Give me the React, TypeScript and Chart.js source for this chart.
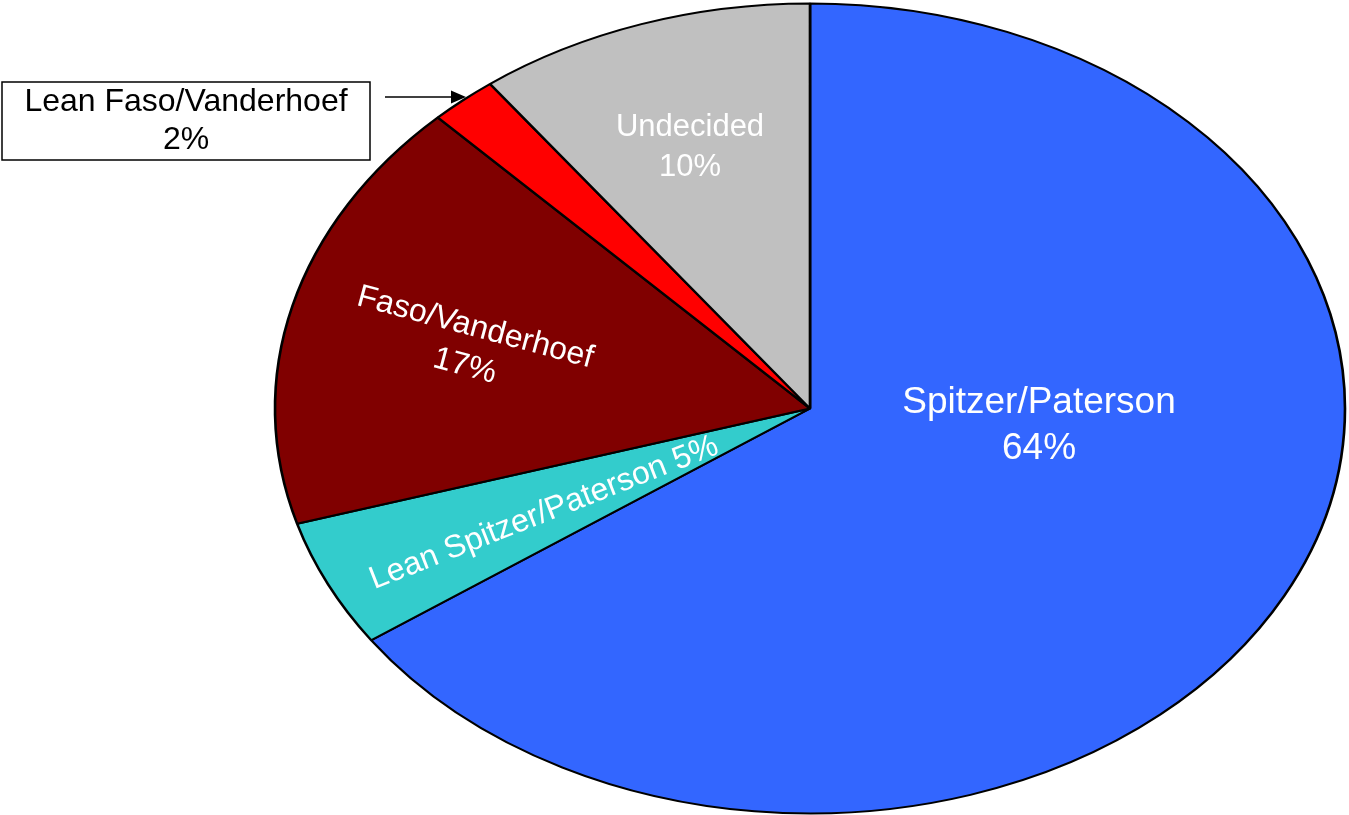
import React, { useEffect, useRef } from "react";
import { Chart, registerables } from "chart.js";

Chart.register(...registerables);

// ---- data ----
const categories = [
  "Spitzer/Paterson",
  "Lean Spitzer/Paterson",
  "Faso/Vanderhoef",
  "Lean Faso/Vanderhoef",
  "Undecided",
];
const values = [64, 5, 17, 2, 10];
const sliceColors = ["#3366FF", "#33CCCC", "#800000", "#FF0000", "#C0C0C0"];

// ---- layout ----
const W = 1349;
const H = 815;
const CX = 810;
const CY = 409;
const RY = 405;
const RX = 535;
const FONT = "'Liberation Sans', Arial, Helvetica, sans-serif";

type LabelLayout =
  | { kind: "inside"; x: number; y: number; angle: number; size: number; lh: number; color: string; oneLine?: boolean }
  | { kind: "callout"; box: [number, number, number, number]; size: number; lh: number; arrow: [number, number, number, number] };

const labelLayouts: LabelLayout[] = [
  { kind: "inside", x: 1039, y: 426, angle: 0, size: 37, lh: 46, color: "#FFFFFF" },
  { kind: "inside", x: 544, y: 513, angle: -21.5, size: 32, lh: 40, color: "#FFFFFF", oneLine: true },
  { kind: "inside", x: 470, y: 347, angle: 15, size: 32, lh: 40, color: "#FFFFFF" },
  { kind: "callout", box: [2, 82, 368, 78], size: 32, lh: 38, arrow: [385, 97, 466, 97] },
  { kind: "inside", x: 690, y: 147, angle: 0, size: 31, lh: 40, color: "#FFFFFF" },
];

const ellipsePlugin = {
  id: "ellipse",
  beforeDatasetsDraw(chart: any) {
    const ctx = chart.ctx;
    ctx.save();
    ctx.translate(CX, CY);
    ctx.scale(RX / RY, 1);
    ctx.translate(-CX, -CY);
  },
  afterDatasetsDraw(chart: any) {
    chart.ctx.restore();
  },
};

const labelPlugin = {
  id: "sliceLabels",
  afterDraw(chart: any) {
    const ctx: CanvasRenderingContext2D = chart.ctx;
    categories.forEach((name, i) => {
      const lay = labelLayouts[i];
      const pct = `${values[i]}%`;
      ctx.save();
      if (lay.kind === "inside") {
        ctx.font = `${lay.size}px ${FONT}`;
        ctx.fillStyle = lay.color;
        ctx.textAlign = "center";
        ctx.textBaseline = "middle";
        ctx.translate(lay.x, lay.y);
        ctx.rotate((lay.angle * Math.PI) / 180);
        if (lay.oneLine) {
          ctx.fillText(`${name} ${pct}`, 0, 0);
        } else {
          ctx.fillText(name, 0, -lay.lh / 2);
          ctx.fillText(pct, 0, lay.lh / 2);
        }
      } else {
        const [bx, by, bw, bh] = lay.box;
        ctx.fillStyle = "#FFFFFF";
        ctx.fillRect(bx, by, bw, bh);
        ctx.strokeStyle = "#000000";
        ctx.lineWidth = 1.5;
        ctx.strokeRect(bx, by, bw, bh);
        ctx.font = `${lay.size}px ${FONT}`;
        ctx.fillStyle = "#000000";
        ctx.textAlign = "center";
        ctx.textBaseline = "middle";
        const mx = bx + bw / 2;
        const my = by + bh / 2;
        ctx.fillText(name, mx, my - lay.lh / 2);
        ctx.fillText(pct, mx, my + lay.lh / 2);
        const [x1, y1, x2, y2] = lay.arrow;
        ctx.beginPath();
        ctx.moveTo(x1, y1);
        ctx.lineTo(x2 - 12, y2);
        ctx.lineWidth = 1.5;
        ctx.stroke();
        ctx.beginPath();
        ctx.moveTo(x2, y2);
        ctx.lineTo(x2 - 15, y2 - 6.5);
        ctx.lineTo(x2 - 15, y2 + 6.5);
        ctx.closePath();
        ctx.fill();
      }
      ctx.restore();
    });
  },
};

export default function App() {
  const ref = useRef<HTMLCanvasElement | null>(null);
  useEffect(() => {
    if (!ref.current) return;
    const chart = new Chart(ref.current, {
      type: "pie",
      data: {
        labels: categories,
        datasets: [
          {
            data: values,
            backgroundColor: sliceColors,
            borderColor: "#000000",
            borderWidth: 2,
          },
        ],
      },
      options: {
        responsive: false,
        animation: false,
        devicePixelRatio: 1,
        radius: RY,
        layout: {
          padding: { left: CX - RY - 2, right: W - (CX + RY + 2), top: CY - RY - 2, bottom: H - (CY + RY + 2) },
        },
        events: [],
        plugins: {
          legend: { display: false },
          tooltip: { enabled: false },
        },
      },
      plugins: [ellipsePlugin, labelPlugin],
    });
    return () => chart.destroy();
  }, []);
  return (
    <div style={{ position: "fixed", left: 0, top: 0, width: W, height: H, background: "#FFFFFF" }}>
      <canvas ref={ref} width={W} height={H} style={{ display: "block", width: W, height: H }} />
    </div>
  );
}
